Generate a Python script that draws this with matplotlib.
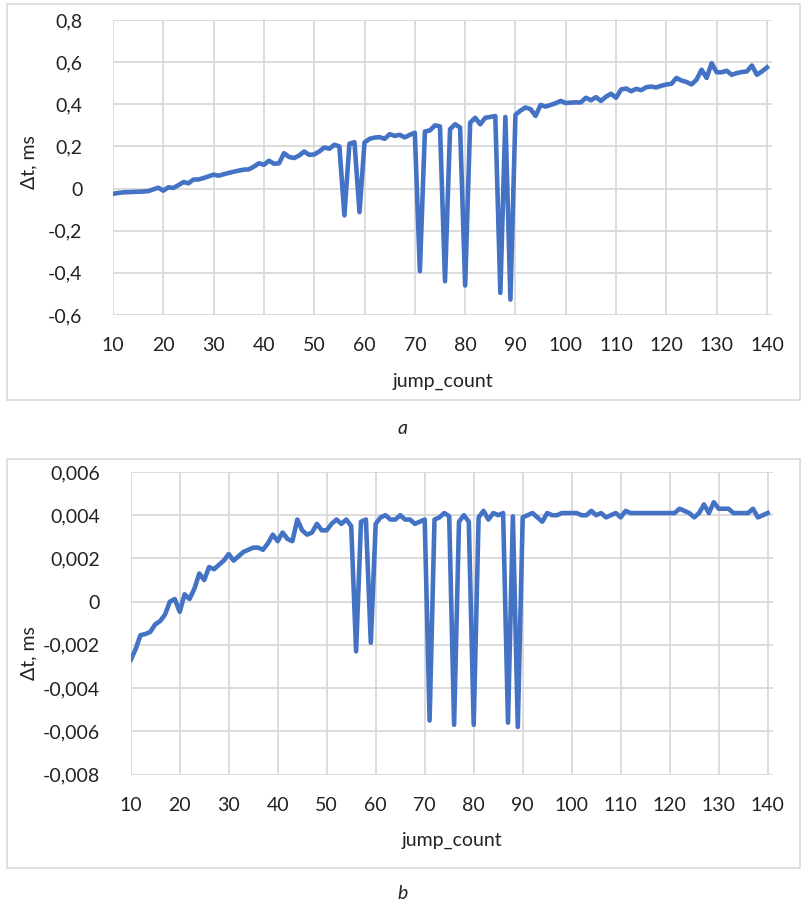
import numpy as np
import matplotlib.pyplot as plt
from matplotlib.patches import Rectangle
from matplotlib.ticker import FuncFormatter

plt.rcParams['font.family'] = ['Lato', 'DejaVu Sans']

jump_count = np.arange(10, 141)

# panel a: delta t, ms
dt_a = [
    -0.025, -0.021, -0.018, -0.017, -0.016, -0.015, -0.014, -0.012, -0.004, 0.004,
    -0.010, 0.006, 0.003, 0.016, 0.031, 0.025, 0.043, 0.043, 0.050, 0.058,
    0.066, 0.061, 0.068, 0.074, 0.080, 0.085, 0.090, 0.091, 0.104, 0.120,
    0.113, 0.132, 0.118, 0.120, 0.168, 0.150, 0.145, 0.157, 0.176, 0.160,
    0.162, 0.176, 0.195, 0.189, 0.208, 0.200, -0.127, 0.213, 0.220, -0.112,
    0.219, 0.236, 0.242, 0.244, 0.236, 0.258, 0.250, 0.255, 0.243, 0.255,
    0.265, -0.392, 0.271, 0.276, 0.300, 0.295, -0.440, 0.282, 0.305, 0.290,
    -0.460, 0.313, 0.336, 0.305, 0.336, 0.340, 0.344, -0.495, 0.340, -0.527,
    0.350, 0.370, 0.385, 0.377, 0.345, 0.397, 0.389, 0.397, 0.405, 0.416,
    0.406, 0.408, 0.409, 0.409, 0.431, 0.419, 0.434, 0.416, 0.436, 0.450,
    0.431, 0.470, 0.475, 0.462, 0.473, 0.467, 0.481, 0.484, 0.480, 0.488,
    0.494, 0.497, 0.525, 0.513, 0.506, 0.494, 0.517, 0.564, 0.525, 0.595,
    0.552, 0.552, 0.559, 0.540, 0.548, 0.553, 0.556, 0.584, 0.540, 0.556,
    0.575,
]

# panel b: delta t, ms
dt_b = [
    -0.0027, -0.0022, -0.00155, -0.0015, -0.0014, -0.00105, -0.0009, -0.0006, 0.0, 0.00012,
    -0.00047, 0.00034, 0.00012, 0.0006, 0.0013, 0.001, 0.0016, 0.0015, 0.0017, 0.0019,
    0.0022, 0.0019, 0.0021, 0.0023, 0.0024, 0.0025, 0.0025, 0.0024, 0.0027, 0.0031,
    0.0028, 0.0032, 0.0029, 0.0028, 0.0038, 0.0033, 0.0031, 0.0032, 0.0036, 0.0033,
    0.0033, 0.0036, 0.0038, 0.0036, 0.0038, 0.0035, -0.0023, 0.0037, 0.0038, -0.0019,
    0.0036, 0.0039, 0.004, 0.0038, 0.0038, 0.004, 0.0038, 0.0038, 0.0036, 0.0037,
    0.0038, -0.0055, 0.0038, 0.0039, 0.0041, 0.00395, -0.0057, 0.0037, 0.004, 0.0037,
    -0.0057, 0.0039, 0.0042, 0.0038, 0.0041, 0.004, 0.0041, -0.0056, 0.00395, -0.0058,
    0.0039, 0.004, 0.0041, 0.0039, 0.0037, 0.0041, 0.004, 0.004, 0.0041, 0.0041,
    0.0041, 0.0041, 0.004, 0.004, 0.0042, 0.004, 0.0041, 0.0039, 0.004, 0.0041,
    0.0039, 0.0042, 0.0041, 0.0041, 0.0041, 0.0041, 0.0041, 0.0041, 0.0041, 0.0041,
    0.0041, 0.0041, 0.0043, 0.0042, 0.0041, 0.0039, 0.0041, 0.0045, 0.0041, 0.0046,
    0.0043, 0.0043, 0.0043, 0.0041, 0.0041, 0.0041, 0.0041, 0.0043, 0.0039, 0.004,
    0.0041,
]

x_ticks = np.arange(10, 141, 10)
y_ticks_a = np.arange(-0.6, 0.81, 0.2)
y_ticks_b = np.arange(-0.008, 0.0061, 0.002)

line_color = '#4472C4'
grid_color = '#d9d9d9'
fs = 14


def comma_fmt(dec):
    def f(v, pos):
        if abs(v) < 1e-12:
            return '0'
        return f'{v:.{dec}f}'.replace('.', ',')
    return FuncFormatter(f)


fig = plt.figure(figsize=(8.03, 9.05), dpi=100)

# chart frames
for y0, h in [(1 - 400 / 905, 396 / 905), (1 - 868 / 905, 409 / 905)]:
    fig.patches.append(Rectangle((7 / 803, y0), 793 / 803, h, transform=fig.transFigure,
                                 fill=False, edgecolor=grid_color, linewidth=1.2))


def setup(ax, yt, dec, ylim, lab):
    ax.set_xlim(10, 141)
    ax.set_ylim(*ylim)
    ax.set_xticks(x_ticks)
    ax.set_yticks(yt)
    ax.yaxis.set_major_formatter(comma_fmt(dec))
    ax.grid(True, color=grid_color, linewidth=1.3)
    ax.set_axisbelow(True)
    for s in ax.spines.values():
        s.set_visible(False)
    ax.tick_params(length=0, labelsize=fs, colors='#222222')
    ax.tick_params(axis='y', pad=22)
    ax.tick_params(axis='x', pad=16)
    ax.set_xlabel('jump_count', fontsize=fs, color='#222222')
    ax.set_ylabel('Δt, ms', fontsize=fs, color='#222222')
    ax.xaxis.set_label_coords(0.5, lab[0])
    ax.yaxis.set_label_coords(lab[1], lab[2])


ax1 = fig.add_axes([113 / 803, 1 - 315 / 905, 659 / 803, 295 / 905])
ax1.plot(jump_count, dt_a, color=line_color, linewidth=3.3, solid_joinstyle='round')
setup(ax1, y_ticks_a, 1, (-0.6, 0.8), (-0.195, -0.115, 0.52))

ax2 = fig.add_axes([130.7 / 803, 1 - 774.5 / 905, 641.9 / 803, 302.5 / 905])
ax2.plot(jump_count, dt_b, color=line_color, linewidth=3.3, solid_joinstyle='round')
setup(ax2, y_ticks_b, 3, (-0.008, 0.006), (-0.19, -0.145, 0.4))

fig.text(403 / 803, 1 - 428 / 905, 'a', fontsize=fs, style='italic', ha='center', va='center', color='#222222')
fig.text(403 / 803, 1 - 893 / 905, 'b', fontsize=fs, style='italic', ha='center', va='center', color='#222222')

fig.savefig('out.png', dpi=100)
